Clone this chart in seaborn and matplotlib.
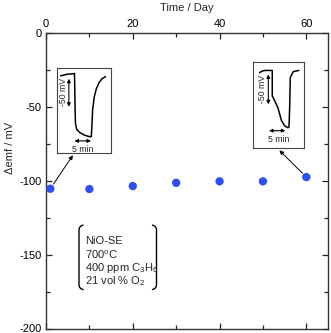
import numpy as np
import pandas as pd
import matplotlib
matplotlib.use("Agg")
import matplotlib.pyplot as plt
import seaborn as sns
from matplotlib.path import Path
from matplotlib.patches import PathPatch

# ---------------- data ----------------
days = [1, 10, 20, 30, 40, 50, 60]
emf = [-105.3, -105.5, -103.5, -101.3, -100.3, -100.3, -97.4]

x_ticks = [0, 20, 40, 60]
y_ticks = [0, -50, -100, -150, -200]

# inset 1 (day 1) transient: time (min) / emf (mV)
in1_t = [1.1, 3.0, 5.3, 5.4, 5.5, 5.6, 6.0, 6.9, 8.4, 10.2, 10.4, 10.6, 10.8, 11.3, 11.9, 12.7, 13.6, 14.7]
in1_mv = [-3.5, -0.9, 0.5, -28, -64, -88, -99, -104, -109, -112, -111, -90, -64, -41, -27, -16, -9, -5]
# inset 2 (day 60) transient
in2_t = [2.0, 2.7, 3.6, 5.9, 5.9, 6.6, 7.6, 8.7, 9.7, 10.7, 11.0, 11.2, 11.4, 12.3, 14.0]
in2_mv = [-3.8, -1.3, 0, 0, -42.7, -50.5, -62, -84, -93, -96, -95, -65, -12, -2, 0]

info_lines = ["NiO-SE", "700$^{\\mathrm{o}}$C", "400 ppm C$_3$H$_6$", "21 vol % O$_2$"]

# ---------------- style ----------------
sns.set_theme(style="ticks")
plt.rcParams["font.family"] = ["Liberation Sans", "DejaVu Sans"]
plt.rcParams["mathtext.fontset"] = "custom"
plt.rcParams["mathtext.rm"] = "Liberation Sans"
plt.rcParams["mathtext.it"] = "Liberation Sans:italic"
plt.rcParams["mathtext.default"] = "regular"

W, H = 331, 333
fig = plt.figure(figsize=(W / 100, H / 100), dpi=100)
ax = fig.add_axes([46 / W, 1 - 328.5 / H, (328 - 46) / W, (328.5 - 33.3) / H])

df = pd.DataFrame({"day": days, "emf": emf})
sns.scatterplot(data=df, x="day", y="emf", ax=ax, s=36, color="#2f4ff2",
                edgecolor="none", zorder=5, legend=False)

ax.set_xlim(0, 65)
ax.set_ylim(-200, 0)
ax.set_xticks(x_ticks)
ax.set_xticks([10, 30, 50], minor=True)
ax.set_yticks(y_ticks)
ax.set_yticks([-25, -75, -125, -175], minor=True)
ax.set_yticklabels([str(v) for v in y_ticks])
ax.xaxis.set_ticks_position("both")
ax.yaxis.set_ticks_position("both")
ax.xaxis.set_label_position("top")
ax.tick_params(axis="x", which="both", labeltop=True, labelbottom=False)
ax.tick_params(which="major", direction="in", length=4.3, width=0.9, labelsize=8,
               colors="#222222", labelcolor="black", pad=3)
ax.tick_params(which="minor", direction="in", length=2.9, width=0.9, colors="#222222")
for s in ax.spines.values():
    s.set_linewidth(1.0)
    s.set_color("#333333")
ax.set_xlabel("Time / Day", fontsize=8, labelpad=6)
ax.set_ylabel("\u0394emf / mV", fontsize=8)
ax.yaxis.set_label_coords(-0.11, 0.61)

# ---------------- insets ----------------
def make_inset(bounds, t, mv, xlim, ylim, varrow_t, varrow_y, vlabel_pos, harrow_y, harrow_t, htext_pos):
    ia = ax.inset_axes(bounds, transform=ax.transData)
    ia.set_facecolor("white")
    sns.lineplot(x=t, y=mv, ax=ia, sort=False, color="black", lw=1.1, estimator=None)
    ia.set_xlim(*xlim)
    ia.set_ylim(*ylim)
    ia.set_xticks([])
    ia.set_yticks([])
    ia.set_xlabel("")
    ia.set_ylabel("")
    for s in ia.spines.values():
        s.set_linewidth(0.8)
        s.set_color("#444444")
    ap = dict(arrowstyle="<|-|>", lw=0.8, color="black", mutation_scale=5, shrinkA=0, shrinkB=0)
    ia.annotate("", xy=(varrow_t, varrow_y[0]), xytext=(varrow_t, varrow_y[1]), arrowprops=ap)
    ia.text(vlabel_pos[0], vlabel_pos[1], "-50 mV", rotation=90, ha="center", va="center", fontsize=6.3)
    ia.annotate("", xy=(harrow_t[0], harrow_y), xytext=(harrow_t[1], harrow_y), arrowprops=ap)
    ia.text(htext_pos[0], htext_pos[1], "5 min", ha="center", va="center", fontsize=6.3)
    return ia

make_inset([2.53, -81.3, 12.4, 57.9], in1_t, in1_mv, (0, 16.3), (-141, 10.6),
           3.6, (-8.7, -58.5), (2.0, -32), -119, (5.3, 10.3), (7.8, -134))
make_inset([47.7, -77.7, 11.7, 58.4], in2_t, in2_mv, (0, 15.5), (-130, 14.5),
           4.7, (-6.7, -56.7), (2.8, -31.7), -101, (4.9, 9.9), (7.9, -115))

# arrows from points to insets
arr = dict(arrowstyle="-|>", lw=0.7, color="black", mutation_scale=6, shrinkA=4, shrinkB=0)
ax.annotate("", xy=(6.2, -82.6), xytext=(days[0], emf[0]), arrowprops=arr)
ax.annotate("", xy=(53.8, -79.3), xytext=(days[-1], emf[-1]), arrowprops=arr)

# ---------------- info text with brackets ----------------
def fp(px, py):
    return (px / W, 1 - py / H)

def bracket(x_line, x_tip, y0, y1):
    verts = [fp(x_tip, y0), fp(x_line, y0 + 1), fp(x_line, y0 + 5),
             fp(x_line, y1 - 5), fp(x_line, y1 - 1), fp(x_tip, y1)]
    codes = [Path.MOVETO, Path.CURVE3, Path.CURVE3, Path.LINETO, Path.CURVE3, Path.CURVE3]
    fig.add_artist(PathPatch(Path(verts, codes), transform=fig.transFigure,
                             fill=False, lw=1.0, color="black"))

bracket(79, 83.5, 225, 289.7)
bracket(156.5, 152, 225, 289.7)
for i, line in enumerate(info_lines):
    x, y = fp(85, 241.3 + i * 13.2)
    fig.text(x, y, line, fontsize=8, ha="left", va="center")

fig.savefig("out.png", dpi=100)
